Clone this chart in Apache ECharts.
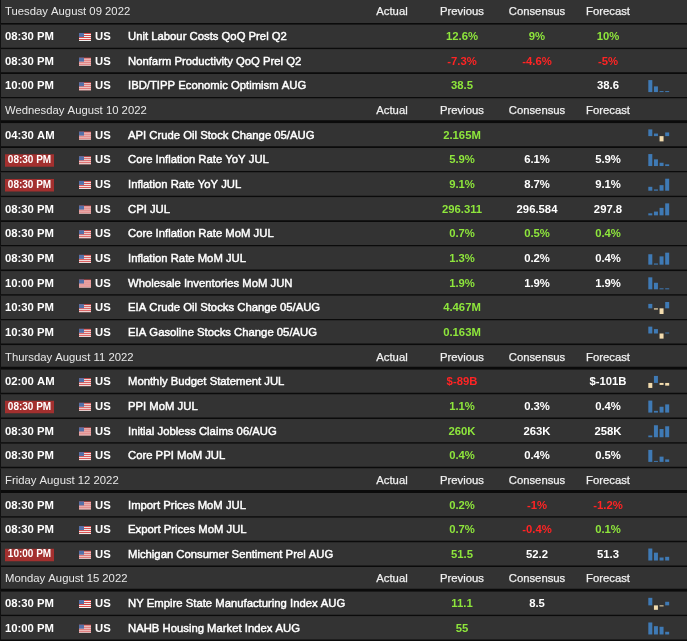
<!DOCTYPE html>
<html><head><meta charset="utf-8">
<script src="https://cdn.jsdelivr.net/npm/echarts@6/dist/echarts.min.js"></script>
<style>html,body{margin:0;padding:0;background:#333;overflow:hidden}#c{width:687px;height:641px;}</style>
</head><body><div id="c"></div>
<script>
// ---------- data ----------
const days = ['Tuesday August 09 2022','Wednesday August 10 2022','Thursday August 11 2022','Friday August 12 2022','Monday August 15 2022'];
const dayCounts = [3, 9, 4, 3, 2];
const columnTitles = ['Actual','Previous','Consensus','Forecast'];
const times = ['08:30 PM','08:30 PM','10:00 PM','04:30 AM','08:30 PM','08:30 PM','08:30 PM','08:30 PM','08:30 PM','10:00 PM','10:30 PM','10:30 PM','02:00 AM','08:30 PM','08:30 PM','08:30 PM','08:30 PM','08:30 PM','10:00 PM','08:30 PM','10:00 PM'];
const highlighted = [0,0,0,0,1,1,0,0,0,0,0,0,0,1,0,0,0,0,1,0,0];
const countries = ['US','US','US','US','US','US','US','US','US','US','US','US','US','US','US','US','US','US','US','US','US'];
const events = ['Unit Labour Costs QoQ Prel Q2','Nonfarm Productivity QoQ Prel Q2','IBD/TIPP Economic Optimism AUG','API Crude Oil Stock Change 05/AUG','Core Inflation Rate YoY JUL','Inflation Rate YoY JUL','CPI JUL','Core Inflation Rate MoM JUL','Inflation Rate MoM JUL','Wholesale Inventories MoM JUN','EIA Crude Oil Stocks Change 05/AUG','EIA Gasoline Stocks Change 05/AUG','Monthly Budget Statement JUL','PPI MoM JUL','Initial Jobless Claims 06/AUG','Core PPI MoM JUL','Import Prices MoM JUL','Export Prices MoM JUL','Michigan Consumer Sentiment Prel AUG','NY Empire State Manufacturing Index AUG','NAHB Housing Market Index AUG'];
const actual = ['','','','','','','','','','','','','','','','','','','','',''];
const previous = ['12.6%','-7.3%','38.5','2.165M','5.9%','9.1%','296.311','0.7%','1.3%','1.9%','4.467M','0.163M','$-89B','1.1%','260K','0.4%','0.2%','0.7%','51.5','11.1','55'];
const consensus = ['9%','-4.6%','','','6.1%','8.7%','296.584','0.5%','0.2%','1.9%','','','','0.3%','263K','0.4%','-1%','-0.4%','52.2','8.5',''];
const forecast = ['10%','-5%','38.6','','5.9%','9.1%','297.8','0.4%','0.4%','1.9%','','','$-101B','0.4%','258K','0.5%','-1.2%','0.1%','51.3','',''];
const previousTone = ['g','r','g','g','g','g','g','g','g','g','g','g','r','g','g','g','g','g','g','g','g'];
const consensusTone = ['g','r','w','w','w','w','w','g','w','w','w','w','w','w','w','w','r','r','w','w','w'];
const forecastTone = ['g','r','w','w','w','w','w','g','w','w','w','w','w','w','w','w','r','g','w','w','w'];
const sparks = [
  null, null,
  [12, 5.7, 0.8, 0.8],
  [6, 2.3, -4.7, 3.3],
  [12, 6.7, 3.3, 1.7],
  [4, 1.3, 5.7, 12.3],
  [2, 3.7, 7.3, 11.7],
  null,
  [11.3, 1.3, 9, 13],
  [12.3, 6.7, 1, 1],
  [3.7, -1, -4.7, 5.3],
  [6.7, 4.3, -5, 0.7],
  [-5, 7, -2, -2.7],
  [11.7, 1.7, 5.7, 8],
  [1.7, 11.7, 8, 10.7],
  [13, 0.7, 5.7, 2.7],
  null, null,
  [10.7, 7, 2.7, 3.3],
  [6.3, -3.7, -0.7, 3],
  [12, 8.3, 7.7, 2.7]
];

// ---------- layout ----------
const W = 687, H = 641;
const rows = [];
let ec = 0;
days.forEach((d, di) => {
  rows.push({kind: 'day', di});
  for (let k = 0; k < dayCounts[di]; k++) rows.push({kind: 'event', ei: ec++});
});
const N = rows.length;
const rowH = H / N;
const COL = {time: 5, flag: 79, cc: 95, name: 128, vals: [392, 462, 537, 608]};
const toneColor = {g: '#8ee63c', r: '#ff2424', w: '#ffffff'};
const FONT = 'Arial, "Liberation Sans", sans-serif';
const FS = '11.3px ';

function renderRow(params, api) {
  const i = api.value(1);
  const r = rows[i];
  const cy = api.coord([0, i])[1];
  const h = api.size([0, 1])[1];
  const X = v => api.coord([v, i])[0];
  const top = cy - h / 2;
  const ch = [];
  ch.push({type: 'rect', shape: {x: X(0), y: top, width: X(W) - X(0), height: h}, style: {fill: '#333333'}});
  const lw = (r.kind === 'day' && r.di > 0) ? 3 : 1.6;
  ch.push({type: 'rect', shape: {x: X(0), y: top + h - lw, width: X(W) - X(0), height: lw}, style: {fill: '#0b0b0b'}});
  ch.push({type: 'rect', shape: {x: X(0), y: top, width: 1, height: h}, style: {fill: '#111'}});
  const txt = (t, x, o) => ({type: 'text', style: Object.assign({text: t, x: x, y: cy, verticalAlign: 'middle', align: 'left', fill: '#fff', font: FS + FONT}, o || {})});
  if (r.kind === 'day') {
    ch.push(txt(days[r.di], X(COL.time), {fill: '#e8e8e8'}));
    columnTitles.forEach((t, k) => ch.push(txt(t, X(COL.vals[k]), {align: 'center', fill: '#f0f0f0', stroke: '#f0f0f0', lineWidth: 0.25})));
  } else {
    const e = r.ei;
    if (highlighted[e]) {
      ch.push({type: 'rect', shape: {x: X(5), y: cy - 6, width: 49, height: 12.5}, style: {fill: '#a3302f'}});
      ch.push(txt(times[e], X(29.5), {align: 'center', font: 'bold 10px ' + FONT}));
    } else {
      ch.push(txt(times[e], X(COL.time), {font: 'bold ' + FS + FONT}));
    }
    // flag
    const fx = X(COL.flag), fy = cy - 4;
    ch.push({type: 'rect', shape: {x: fx, y: fy, width: 12, height: 8}, style: {fill: '#d94a4a'}});
    [1, 3, 5, 7].forEach(s => ch.push({type: 'rect', shape: {x: fx, y: fy + s, width: 12, height: 1}, style: {fill: '#f2f2f2'}}));
    ch.push({type: 'rect', shape: {x: fx, y: fy, width: 5, height: 4}, style: {fill: '#5470a8'}});
    ch.push(txt(countries[e], X(COL.cc), {font: 'bold ' + FS + FONT}));
    ch.push(txt(events[e], X(COL.name), {stroke: '#ffffff', lineWidth: 0.45}));
    const vals = [actual[e], previous[e], consensus[e], forecast[e]];
    const tones = ['w', previousTone[e], consensusTone[e], forecastTone[e]];
    vals.forEach((v, k) => { if (v) ch.push(txt(v, X(COL.vals[k]), {align: 'center', fill: toneColor[tones[k]], font: 'bold ' + FS + FONT})); });
  }
  return {type: 'group', children: ch};
}

const grids = [{left: 0, right: 0, top: 0, bottom: 0}];
const xAxes = [{type: 'value', min: 0, max: W, show: false, gridIndex: 0}];
const yAxes = [{type: 'category', data: rows.map((_, i) => i), inverse: true, show: false, gridIndex: 0}];
const series = [{
  type: 'custom', coordinateSystem: 'cartesian2d', xAxisIndex: 0, yAxisIndex: 0,
  renderItem: renderRow, data: rows.map((_, i) => [0, i]), encode: {x: 0, y: 1}, z: 1, silent: true, clip: false
}];

rows.forEach((r, i) => {
  if (r.kind !== 'event') return;
  const s = sparks[r.ei];
  if (!s) return;
  const g = grids.length;
  const cy = (i + 0.5) * rowH;
  grids.push({left: 647.5, width: 22.5, top: cy - 6.2, height: 12});
  xAxes.push({type: 'category', data: ['1', '2', '3', '4'], show: false, gridIndex: g});
  yAxes.push({type: 'value', min: Math.min(0, ...s), max: Math.max(0, ...s), show: false, gridIndex: g});
  series.push({
    type: 'bar', xAxisIndex: g, yAxisIndex: g, barWidth: 4, barMinHeight: 1, z: 5, silent: true,
    data: s.map(v => ({value: v, itemStyle: {color: v >= 0 ? '#3f7ab5' : '#f3dcae'}}))
  });
});

const chart = echarts.init(document.getElementById('c'), null, {renderer: 'canvas'});
chart.setOption({
  backgroundColor: '#333333', animation: false,
  grid: grids, xAxis: xAxes, yAxis: yAxes, series: series
});
</script>
</body></html>
